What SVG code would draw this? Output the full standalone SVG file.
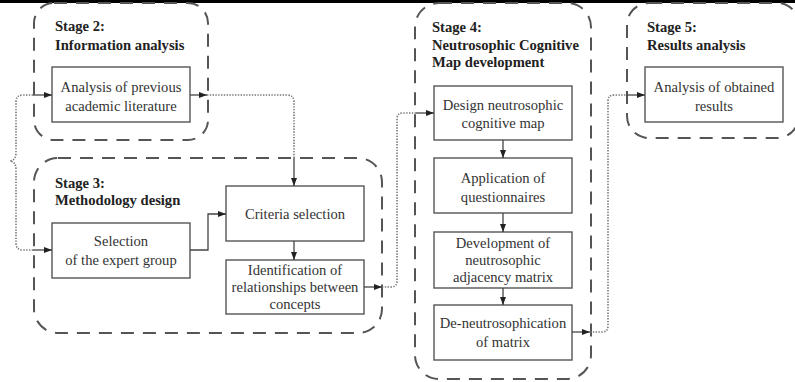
<svg xmlns="http://www.w3.org/2000/svg" width="795" height="382" viewBox="0 0 795 382">
<defs>
<style>
.stage{fill:none;stroke:#555;stroke-width:2;stroke-dasharray:13 9}
.box{fill:#fff;stroke:#555;stroke-width:1.4}
.t{font-family:"Liberation Serif","Times New Roman",serif;font-size:14.6px;fill:#333;text-anchor:middle}
.h{font-family:"Liberation Serif","Times New Roman",serif;font-size:14.6px;font-weight:bold;fill:#222}
.solid{fill:none;stroke:#444;stroke-width:1.3}
.dot{fill:none;stroke:#777;stroke-width:1.6;stroke-dasharray:1.4 1.4}
</style>
<marker id="arr" viewBox="0 0 8 6" refX="8" refY="3" markerWidth="8" markerHeight="6" markerUnits="userSpaceOnUse" orient="auto">
<path d="M0,0 L8,3 L0,6 z" fill="#222"/>
</marker>
</defs>
<rect width="795" height="382" fill="#fff"/>
<line x1="0" y1="1.5" x2="795" y2="1.5" stroke="#000" stroke-width="3"/>

<g id="stage2">
<rect class="stage" x="34" y="3" width="174" height="137" rx="20"/>
<text class="h" x="55" y="31">Stage 2:</text>
<text class="h" x="55" y="50">Information analysis</text>
</g>
<g id="stage3">
<rect class="stage" x="34" y="158" width="348" height="175" rx="24"/>
<text class="h" x="55" y="188">Stage 3:</text>
<text class="h" x="55" y="205">Methodology design</text>
</g>
<g id="stage4">
<rect class="stage" x="415" y="3" width="176" height="376" rx="24"/>
<text class="h" x="432" y="32">Stage 4:</text>
<text class="h" x="432" y="50">Neutrosophic Cognitive</text>
<text class="h" x="432" y="67">Map development</text>
</g>
<g id="stage5">
<rect class="stage" x="627" y="3" width="172" height="135" rx="22"/>
<text class="h" x="647" y="32">Stage 5:</text>
<text class="h" x="647" y="50">Results analysis</text>
</g>

<g id="n-literature">
<rect class="box" x="52" y="67" width="138" height="55"/>
<text class="t" x="121" y="92">Analysis of previous</text>
<text class="t" x="121" y="111">academic literature</text>
</g>
<g id="n-expert">
<rect class="box" x="52" y="223" width="138" height="55"/>
<text class="t" x="121" y="246">Selection</text>
<text class="t" x="121" y="265">of the expert group</text>
</g>
<g id="n-criteria">
<rect class="box" x="226" y="186" width="138" height="55"/>
<text class="t" x="295" y="219">Criteria selection</text>
</g>
<g id="n-relationships">
<rect class="box" x="226" y="260" width="138" height="54"/>
<text class="t" x="295" y="275">Identification of</text>
<text class="t" x="295" y="292">relationships between</text>
<text class="t" x="295" y="309">concepts</text>
</g>
<g id="n-design">
<rect class="box" x="434" y="86" width="138" height="54"/>
<text class="t" x="503" y="110">Design neutrosophic</text>
<text class="t" x="503" y="128">cognitive map</text>
</g>
<g id="n-questionnaires">
<rect class="box" x="434" y="158" width="138" height="55"/>
<text class="t" x="503" y="183">Application of</text>
<text class="t" x="503" y="202">questionnaires</text>
</g>
<g id="n-matrix">
<rect class="box" x="434" y="232" width="138" height="56"/>
<text class="t" x="503" y="248">Development of</text>
<text class="t" x="503" y="265">neutrosophic</text>
<text class="t" x="503" y="282">adjacency matrix</text>
</g>
<g id="n-deneutro">
<rect class="box" x="434" y="305" width="138" height="55"/>
<text class="t" x="503" y="328">De-neutrosophication</text>
<text class="t" x="503" y="347">of matrix</text>
</g>
<g id="n-results">
<rect class="box" x="645" y="67" width="138" height="55"/>
<text class="t" x="714" y="92">Analysis of obtained</text>
<text class="t" x="714" y="111">results</text>
</g>

<g id="connectors">
<path class="dot" d="M33,95 H23 Q16,95 16,102 V153 Q16,160 10,161 Q16,162 16,169 V243 Q16,250 23,250 H33"/>
<path class="solid" d="M33,95 H52" marker-end="url(#arr)"/>
<path class="solid" d="M33,250 H52" marker-end="url(#arr)"/>
<path class="solid" d="M190,95 H207" marker-end="url(#arr)"/>
<path class="dot" d="M207,95 H287 Q294,95 294,102 V158"/>
<path class="solid" d="M294,158 V186" marker-end="url(#arr)"/>
<path class="solid" d="M190,250 H208 V214 H226" marker-end="url(#arr)"/>
<path class="solid" d="M294,241 V260" marker-end="url(#arr)"/>
<path class="solid" d="M364,287 H382" marker-end="url(#arr)"/>
<path class="dot" d="M382,287 H391 Q397,287 397,281 V119 Q397,113 403,113 H416"/>
<path class="solid" d="M416,113 H434" marker-end="url(#arr)"/>
<path class="solid" d="M503,140 V158" marker-end="url(#arr)"/>
<path class="solid" d="M503,213 V232" marker-end="url(#arr)"/>
<path class="solid" d="M503,288 V305" marker-end="url(#arr)"/>
<path class="solid" d="M572,332 H590" marker-end="url(#arr)"/>
<path class="dot" d="M590,332 H602 Q608,332 608,326 V101 Q608,95 614,95 H626"/>
<path class="solid" d="M626,95 H645" marker-end="url(#arr)"/>
</g>
</svg>
